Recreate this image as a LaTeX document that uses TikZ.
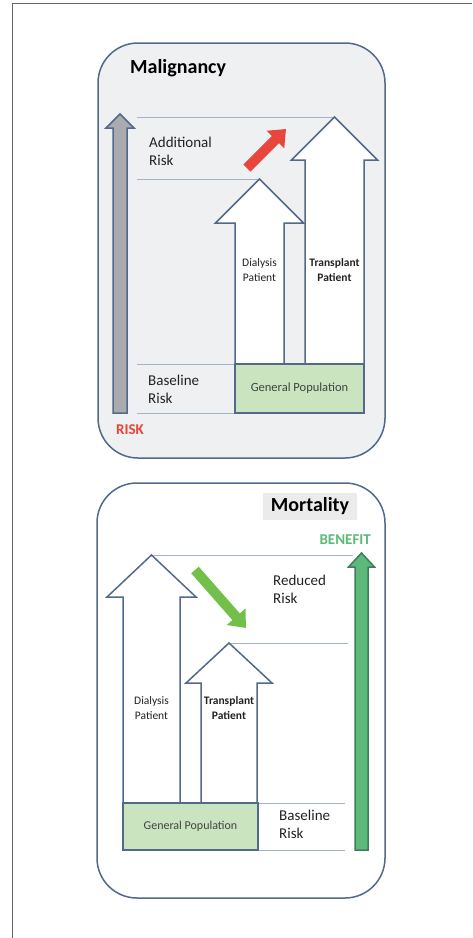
\documentclass[tikz,border=0pt]{standalone}
\usepackage{fontspec}
\setmainfont{Carlito}
\usetikzlibrary{positioning}
\usetikzlibrary{arrows.meta}

\definecolor{edgeblue}{HTML}{52698C}
\definecolor{guideblue}{HTML}{A3B4CA}
\definecolor{panelgray}{HTML}{EFF0F1}
\definecolor{riskgray}{HTML}{A9ABAE}
\definecolor{riskred}{HTML}{E8453C}
\definecolor{benefitgreen}{HTML}{5CB979}
\definecolor{benefitdark}{HTML}{3F7D5C}
\definecolor{shiftgreen}{HTML}{72C04A}
\definecolor{popgreen}{HTML}{C9E4BF}
\definecolor{textdark}{HTML}{222222}

% upward block arrow: style, centre x, tip y, head y, bottom y, half shaft, half head
\newcommand{\blockup}[7]{
    \draw[#1] (#2-#6,#5) -- (#2-#6,#4) -- (#2-#7,#4) -- (#2,#3)
        -- (#2+#7,#4) -- (#2+#6,#4) -- (#2+#6,#5) -- cycle;
}

\tikzset{
    panel/.style={draw=edgeblue, line width=1.5pt, rounded corners=40pt},
    patient/.style={draw=edgeblue, fill=white, line width=1.5pt},
    guide/.style={draw=guideblue, line width=1pt},
    genpop/.style={draw=edgeblue, fill=popgreen, line width=1.5pt, inner sep=0pt,
        text=textdark!85, font=\fontsize{12.5}{15}\selectfont},
    risklabel/.style={inner sep=0pt, anchor=west, align=left, text=textdark,
        font=\fontsize{15}{18}\selectfont},
    small/.style={inner sep=0pt, align=center, text=textdark,
        font=\fontsize{11.5}{15}\selectfont},
    smallbold/.style={small, font=\fontsize{11.5}{15}\selectfont\bfseries},
    title/.style={inner sep=0pt, text=black, font=\fontsize{20}{24}\selectfont\bfseries},
    shiftarrow/.style={line width=10pt, -{Triangle[width=24pt,length=15pt]}}
}

\begin{document}
\begin{tikzpicture}[x=1pt, y=-1pt]
    \useasboundingbox (0,0) rectangle (472,938);
    \draw[gray!80!black, line width=1pt] (12,938) -- (12,3) -- (472,3);

    % Malignancy
    \draw[panel, fill=panelgray] (98,43) rectangle (385,458);
    \node[title, anchor=west] (maltitle) at (130,68) {Malignancy};

    \draw[guide] (137,117) -- (333,117);
    \draw[guide] (137,179) -- (259,179);
    \draw[guide] (137,364) -- (235,364);
    \draw[guide] (137,413) -- (235,413);

    \blockup{draw=edgeblue, fill=riskgray, line width=1.5pt}{120}{114}{128}{413}{7}{14}
    \blockup{patient}{259.5}{179}{223}{364}{24.5}{44}
    \blockup{patient}{334.5}{117}{160}{364}{29.5}{43}

    \node[genpop, minimum width=129pt, minimum height=49pt] (malpop) at (299.5,388.5)
        {General Population};

    \node[risklabel] (addrisk) at (149,151) {Additional\\Risk};
    \node[risklabel] (malbase) at (148,389) {Baseline\\Risk};
    \node[small] (maldial) at (259.5,270) {Dialysis\\Patient};
    \node[smallbold] (maltrans) at (334.5,270) {Transplant\\Patient};
    \node[risklabel, text=riskred, font=\fontsize{15}{18}\selectfont\bfseries] (risk) at (116,430) {RISK};

    \coordinate (upfrom) at (247,168);
    \coordinate (upto) at (286,129);
    \draw[shiftarrow, riskred] (upfrom) -- (upto);

    % Mortality
    \draw[panel, fill=white] (97,483) rectangle (385,898);
    \node[title, fill=black!8, minimum width=94pt, minimum height=27pt] (morttitle)
        at (310,506.5) {Mortality};

    \draw[guide] (152,555) -- (353,555);
    \draw[guide] (230,643) -- (348,643);
    \draw[guide] (258,803) -- (345,803);
    \draw[guide] (258,850) -- (345,850);

    \blockup{patient}{151.5}{555}{597}{803}{28.5}{44.5}
    \blockup{patient}{229}{643}{683}{803}{28}{43}
    \blockup{draw=benefitdark, fill=benefitgreen, line width=1.5pt}{361.5}{553}{567}{850}{6.5}{13}

    \node[genpop, minimum width=135pt, minimum height=47pt,
        font=\fontsize{12}{15}\selectfont] (mortpop) at (190.5,826.5) {General Population};

    \node[risklabel] (redrisk) at (273,589) {Reduced\\Risk};
    \node[risklabel] (mortbase) at (279,824) {Baseline\\Risk};
    \node[small] (mortdial) at (151.5,708) {Dialysis\\Patient};
    \node[smallbold] (morttrans) at (229,708) {Transplant\\Patient};
    \node[risklabel, anchor=east, text=benefitgreen, font=\fontsize{15}{18}\selectfont\bfseries]
        (benefit) at (371,540) {BENEFIT};

    \coordinate (downfrom) at (195,570);
    \coordinate (downto) at (246,628);
    \draw[shiftarrow, shiftgreen] (downfrom) -- (downto);
\end{tikzpicture}
\end{document}
